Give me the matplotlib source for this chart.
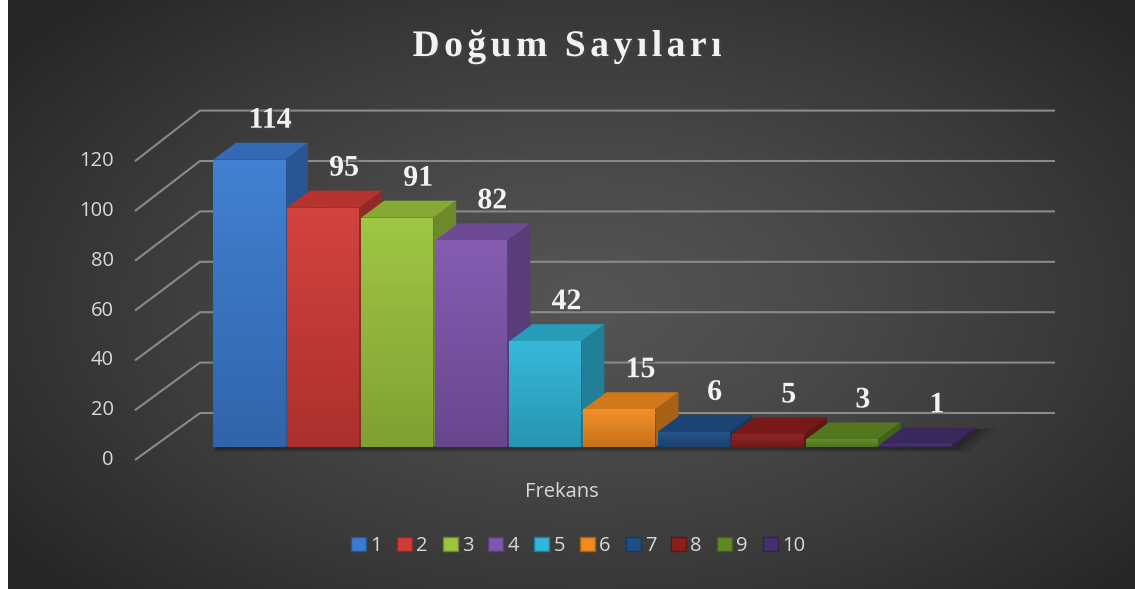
import numpy as np
import matplotlib
matplotlib.use("Agg")
import matplotlib.pyplot as plt
from matplotlib.patches import Polygon, Patch, Rectangle
from matplotlib.colors import LinearSegmentedColormap, to_rgb
import matplotlib.patheffects as pe

# --- data ---
categories = ["1", "2", "3", "4", "5", "6", "7", "8", "9", "10"]
values = [114, 95, 91, 82, 42, 15, 6, 5, 3, 1]
y_ticks = [0, 20, 40, 60, 80, 100, 120]
title = "Doğum Sayıları"
axis_label = "Frekans"

colors = ["#3b7bd0", "#d13b37", "#9cc43e", "#7f56ae", "#2fb6d8",
          "#f28b1f", "#1f4e86", "#8b1d1d", "#5e8a24", "#45306d"]

W, H = 1135, 589
fig = plt.figure(figsize=(W / 100, H / 100), dpi=100)

# background radial gradient
bg = fig.add_axes([8 / W, 0, 1 - 8 / W, 1])
bg.set_axis_off()
yy, xx = np.mgrid[0:H, 0:W - 8]
r = np.sqrt(((xx - 580) / 720.0) ** 2 + ((yy - 300) / 420.0) ** 2)
level = 0.33 - 0.18 * np.clip(r, 0, 1) ** 1.3
bg.imshow(np.dstack([level] * 3), aspect="auto", extent=(0, 1, 0, 1))
bg.set_xlim(0, 1)
bg.set_ylim(0, 1)
fig.patches.append(Rectangle((0, 0), 8 / W, 1, transform=fig.transFigure,
                             facecolor="white", edgecolor="none"))

# main axes: x = category index, y = value (front plane of bars)
PX_X = 74.1   # pixels per category
PX_Y = 2.52   # pixels per value unit
X0, Y0 = 249, 447  # pixel of category 0 / value 0
ax = fig.add_axes([0, 0, 1, 1])
ax.set_axis_off()
ax.patch.set_alpha(0)
xlim = ((0 - X0) / PX_X, (W - X0) / PX_X)
ylim = ((Y0 - H) / PX_Y, Y0 / PX_Y)

def dx(px):
    return px / PX_X

def dy(px):
    return px / PX_Y

# depth offsets
BAR_DX, BAR_DY = dx(23), dy(17)
WALL_DY = dy(34)
FRONT_DY = dy(-13)
bw = 72 / PX_X

# gridlines: back wall + diagonal side wall
wall_left = (200 - X0) / PX_X
wall_right = (1055 - X0) / PX_X
front_left = wall_left - dx(65)
for g in y_ticks:
    yw = g + WALL_DY
    yf = g * 2.49 / PX_Y + FRONT_DY
    ax.plot([front_left, wall_left, wall_right], [yf, yw, yw],
            color="#8a8a8a", lw=1.5, zorder=1, solid_capstyle="butt")
    ax.text(front_left - dx(21), yf, str(g), ha="right", va="center",
            fontsize=14.5, family="Open Sans", color="#d9d9d9")

# floor shadow
x_first = 0 - bw / 2
x_last = len(values) - 1 + bw / 2
for k, a in enumerate([0.08, 0.10, 0.16]):
    grow = (3 - k) * 0.05
    ax.add_patch(Polygon([(x_first, -dy(2) - grow * 8),
                          (x_last + grow * 1.5, -dy(2) - grow * 8),
                          (x_last + BAR_DX + grow * 2, BAR_DY + grow * 5),
                          (x_first + BAR_DX, BAR_DY + grow * 5)],
                         closed=True, facecolor="black", edgecolor="none",
                         alpha=a, zorder=2))

# 3D bars
def shade(c, f):
    c = np.array(to_rgb(c))
    if f < 1:
        return tuple(c * f)
    return tuple(c + (1 - c) * (f - 1))

xs = np.arange(len(values))
for i, (v, c) in enumerate(zip(values, colors)):
    z = 3 + i * 0.01
    x0, x1 = i - bw / 2, i + bw / 2
    side = Polygon([(x1, 0), (x1, v), (x1 + BAR_DX, v + BAR_DY), (x1 + BAR_DX, BAR_DY)],
                   closed=True, facecolor=shade(c, 0.7), edgecolor="none", zorder=z)
    top = Polygon([(x0, v), (x1, v), (x1 + BAR_DX, v + BAR_DY), (x0 + BAR_DX, v + BAR_DY)],
                  closed=True, facecolor=shade(c, 0.86), edgecolor="none", zorder=z)
    ax.add_patch(side)
    ax.add_patch(top)
    bar = ax.bar(xs[i], v, width=bw, color=c, zorder=z)[0]
    cmap = LinearSegmentedColormap.from_list("g", [shade(c, 0.82), shade(c, 1.04)])
    img = ax.imshow(np.linspace(0, 1, 64).reshape(-1, 1)[::-1], cmap=cmap,
                    extent=(x0, x1, 0, v), aspect="auto", zorder=z)
    img.set_clip_path(bar)
    ax.text(i + dx(21), v + dy(32), str(v), ha="center", va="baseline",
            fontsize=21.5, fontweight="bold", family="Liberation Serif", color="#f2f2f2",
            zorder=10,
            path_effects=[pe.withSimplePatchShadow(offset=(1.5, -1.5), alpha=0.45)])

ax.set_xlim(*xlim)
ax.set_ylim(*ylim)

# title with letter spacing
renderer = fig.canvas.get_renderer()
tfont = dict(fontsize=27, fontweight="bold", family="Liberation Serif")

def char_w(ch):
    if ch == " ":
        return char_w("a") * 0.45
    t = fig.text(0, 0, ch, **tfont)
    w = t.get_window_extent(renderer).width
    t.remove()
    return w

widths = [char_w(ch) for ch in title]
target = 309
gap = (target - sum(widths)) / (len(title) - 1)
xpos = 567 - target / 2
for ch, w in zip(title, widths):
    fig.text(xpos / W, 1 - 56 / H, ch, ha="left", va="baseline", color="#f2f2f2",
             path_effects=[pe.withSimplePatchShadow(offset=(1.5, -1.5), alpha=0.5)],
             **tfont)
    xpos += w + gap

fig.text(562 / W, 1 - 492 / H, axis_label, ha="center", va="center",
         fontsize=14.5, family="Open Sans", color="#d9d9d9")

handles = [Patch(facecolor=c, edgecolor=shade(c, 0.7), label=lab)
           for c, lab in zip(colors, categories)]
leg = fig.legend(handles=handles, loc="center", bbox_to_anchor=(578 / W, 1 - 546 / H),
                 ncol=len(categories), frameon=False, handlelength=0.75, handleheight=0.75,
                 handletextpad=0.2, columnspacing=0.75,
                 prop={"family": "Open Sans", "size": 14.5})
for t in leg.get_texts():
    t.set_color("#d9d9d9")

fig.savefig("out.png", dpi=100)
